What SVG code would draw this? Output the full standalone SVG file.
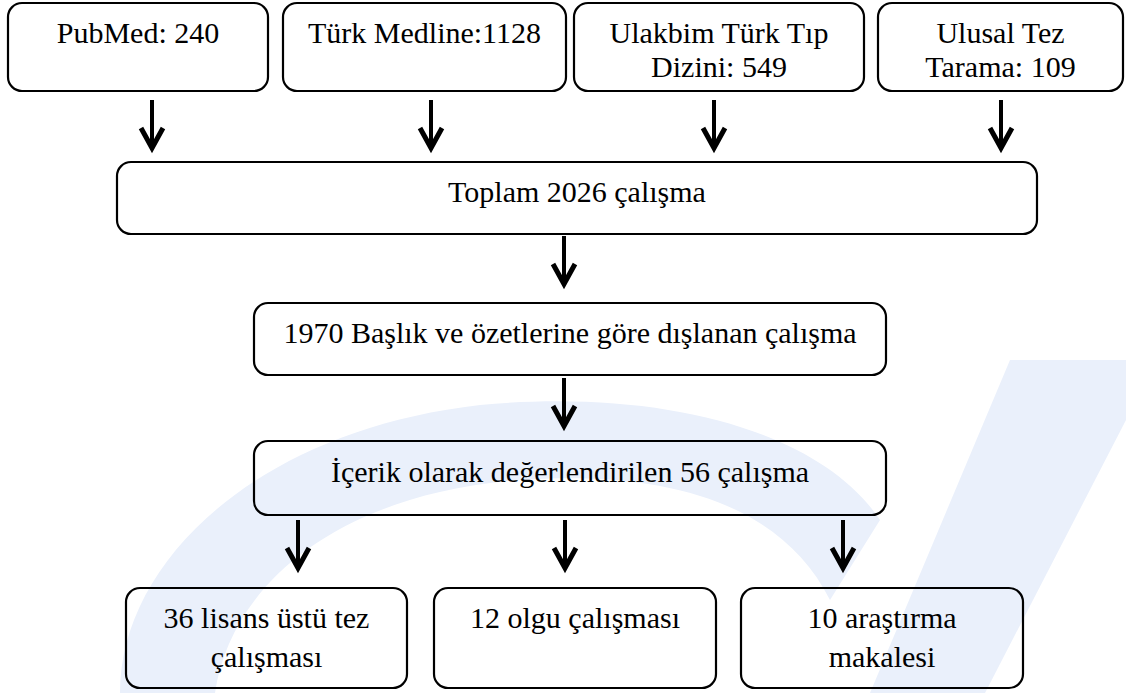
<svg xmlns="http://www.w3.org/2000/svg" width="1126" height="693" viewBox="0 0 1126 693">
<style>
.box{fill:none;stroke:#000;stroke-width:2.2}
.t{font-family:"Liberation Serif","Times New Roman",serif;font-size:30px;fill:#000;text-anchor:middle}
.sh{stroke:#000;stroke-width:4;fill:none}
.hd{stroke:#000;stroke-width:5;fill:none;stroke-linejoin:miter;stroke-miterlimit:10}
.wm{fill:#eaf0fb;stroke:none}
</style>
<defs>
<g id="arr">
<line class="sh" x1="0" y1="0" x2="0" y2="48"/>
<polyline class="hd" points="-11,28 0,48 11,28"/>
</g>
</defs>
<rect width="1126" height="693" fill="#fff"/>
<g id="watermark">
<path class="wm" d="M 120 693 C 120 560 260 430 480 405 C 660 388 820 430 880 520 L 830 600 C 780 500 660 470 520 480 C 330 495 230 590 215 693 Z"/>
<path class="wm" d="M 1010 360 L 1126 360 L 1126 420 L 985 693 L 870 693 Z"/>
</g>
<g id="n1"><rect class="box" x="8" y="3" width="260" height="88" rx="14"/><text class="t" x="138" y="43">PubMed: 240</text></g>
<g id="n2"><rect class="box" x="283" y="3" width="283" height="88" rx="14"/><text class="t" x="424.5" y="43">Türk Medline:1128</text></g>
<g id="n3"><rect class="box" x="574" y="3" width="290" height="88" rx="14"/><text class="t" x="719" y="43">Ulakbim Türk Tıp</text><text class="t" x="719" y="77">Dizini: 549</text></g>
<g id="n4"><rect class="box" x="878" y="3" width="245" height="88" rx="14"/><text class="t" x="1000.5" y="43">Ulusal Tez</text><text class="t" x="1000.5" y="77">Tarama: 109</text></g>
<g id="n5"><rect class="box" x="117" y="162" width="920" height="72" rx="14"/><text class="t" x="577" y="202">Toplam 2026 çalışma</text></g>
<g id="n6"><rect class="box" x="254" y="303" width="632" height="72" rx="14"/><text class="t" x="570" y="343">1970 Başlık ve özetlerine göre dışlanan çalışma</text></g>
<g id="n7"><rect class="box" x="254" y="441" width="632" height="74" rx="14"/><text class="t" x="570" y="482">İçerik olarak değerlendirilen 56 çalışma</text></g>
<g id="n8"><rect class="box" x="126" y="588" width="281" height="100" rx="14"/><text class="t" x="266.5" y="628">36 lisans üstü tez</text><text class="t" x="266.5" y="667">çalışması</text></g>
<g id="n9"><rect class="box" x="434" y="588" width="282" height="100" rx="14"/><text class="t" x="575" y="628">12 olgu çalışması</text></g>
<g id="n10"><rect class="box" x="741" y="588" width="282" height="100" rx="14"/><text class="t" x="882" y="628">10 araştırma</text><text class="t" x="882" y="667">makalesi</text></g>
<g id="connectors">
<use href="#arr" x="152" y="100"/>
<use href="#arr" x="431" y="100"/>
<use href="#arr" x="714" y="100"/>
<use href="#arr" x="1001" y="100"/>
<use href="#arr" x="564" y="236"/>
<use href="#arr" x="564" y="378"/>
<use href="#arr" x="298" y="520"/>
<use href="#arr" x="565" y="520"/>
<use href="#arr" x="843" y="520"/>
</g>
</svg>
